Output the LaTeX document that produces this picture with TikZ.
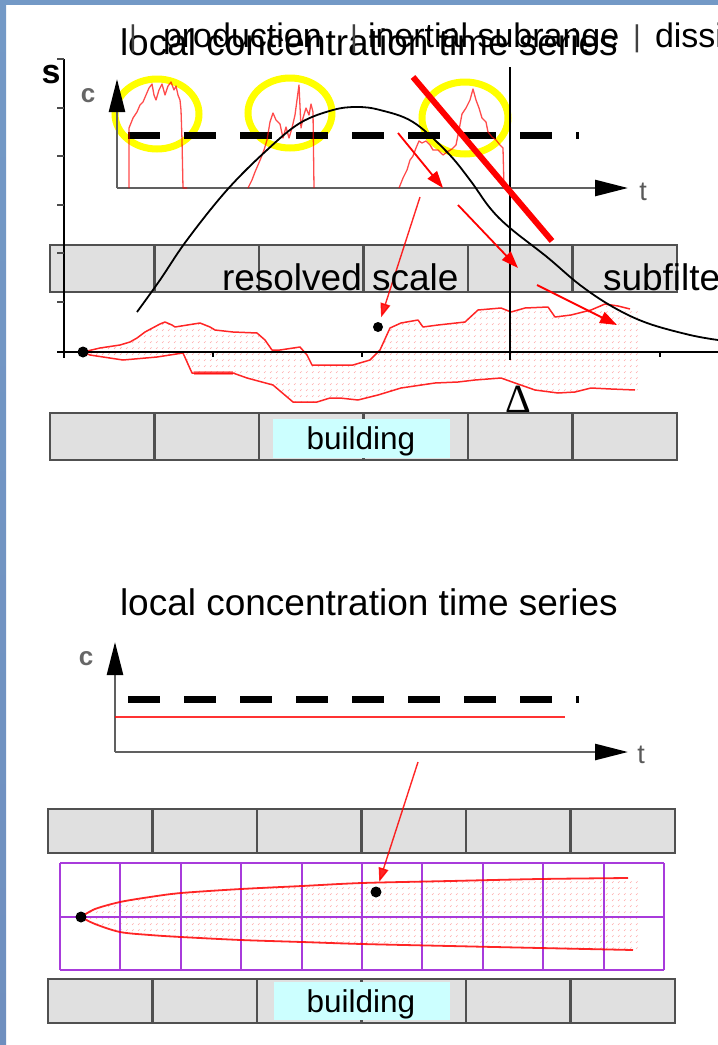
\documentclass[tikz,border=0pt]{standalone}
\usepackage{fontspec}
\setmainfont{Liberation Sans}
\newfontfamily\seriffont{Liberation Serif}
\usetikzlibrary{arrows.meta,patterns}
\definecolor{stripA}{HTML}{7399C6}
\definecolor{stripB}{HTML}{99CCFF}
\definecolor{stripC}{HTML}{6F8FBF}
\definecolor{boxgray}{HTML}{E0E0E0}
\definecolor{boxline}{HTML}{505050}
\definecolor{bldcyan}{HTML}{CCFFFF}
\definecolor{gridpurple}{HTML}{A83BDB}
\definecolor{yel}{HTML}{FFFF00}
\definecolor{axgray}{HTML}{606060}
\pgfdeclarepatternformonly{pinkdots}{\pgfqpoint{-1pt}{-1pt}}{\pgfqpoint{7pt}{7pt}}{\pgfqpoint{6pt}{6pt}}{%
  \pgfsetlinewidth{0.7pt}%
  \pgfpathmoveto{\pgfqpoint{0pt}{0pt}}\pgfpathlineto{\pgfqpoint{1.6pt}{1.6pt}}\pgfusepathqstroke}
\newcommand{\fs}[1]{\fontsize{#1pt}{#1pt}\selectfont}
\begin{document}
\begin{tikzpicture}[x=1pt,y=-1pt,
  txt/.style={inner sep=0pt, outer sep=0pt},
  blockbox/.style={fill=boxgray, draw=boxline, line width=2.5pt},
  axisline/.style={draw=axgray, line width=2.6pt, -{Triangle[length=33pt,width=16pt,color=black]}},
  dashthick/.style={line width=7pt, dash pattern=on 32pt off 24pt},
  tsred/.style={red, line width=1.3pt, opacity=0.7, line join=round},
  plumeline/.style={red, line width=1.5pt, opacity=0.85, line join=round},
  plumefill/.style={pattern=pinkdots, pattern color=red!35},
  redarrow/.style={red, line width=1.8pt, -{Triangle[length=17pt,width=12pt]}},
  thinarrow/.style={red, line width=1.4pt, opacity=0.85, -{Triangle[length=14pt,width=10pt]}},
  yring/.style={draw=yel, line width=7pt},
  dotnode/.style={circle, fill=black, inner sep=0pt, minimum size=11pt},
  clab/.style={txt, text=black!60, font=\bfseries\fs{26}},
  tlab/.style={txt, text=black!65, font=\fs{27}},
  bar/.style={txt, text=black!75, font=\fs{30}}
]
\useasboundingbox (0,0) rectangle (718,1045);
\fill[white] (0,0) rectangle (718,1045);
\fill[stripA] (0,0) rectangle (718,5);
\shade[top color=stripA, middle color=stripB, bottom color=stripC] (0,0) rectangle (6,1045);

% ---------------- upper section ----------------
\foreach \i in {0,...,5} {
  \draw[blockbox] ({50+104.5*\i},245) rectangle ({50+104.5*(\i+1)},292);
  \draw[blockbox] ({50+104.5*\i},413) rectangle ({50+104.5*(\i+1)},460);
}
\fill[bldcyan] (273,419) rectangle (450,458);
\node[txt, font=\fs{31.5}, anchor=base] (bld1) at (361,449) {building};

% yellow rings
\draw[yring] (157,114) ellipse (42 and 35);
\draw[yring] (290,113) ellipse (42 and 35);
\draw[yring] (465,118) ellipse (43 and 36);

% plume (upper)
\fill[plumefill] plot coordinates {(83,352) (100,348) (120,345) (130,342) (137,338) (145,332) (160,324) (165,322) (172,325) (175,327) (200,323) (210,327) (215,330) (233,332) (257,333) (265,340) (272,350) (280,350) (300,347) (307,355) (312,365) (330,365) (353,365) (370,360) (380,350) (390,328) (401,323) (418,320) (423,327) (438,325) (465,322) (478,310) (501,308) (511,312) (525,308) (548,307) (555,317) (571,315) (591,310) (605,304) (618,306) (630,309) (640,312)}
  -- plot coordinates {(640,390) (635,390) (611,389) (591,388) (575,392) (558,393) (535,390) (515,383) (501,378) (475,380) (458,382) (435,383) (401,388) (378,395) (358,400) (340,398) (330,398) (317,402) (293,402) (273,385) (247,378) (233,373) (192,373) (183,353) (157,357) (123,360) (90,355) (83,352)} -- cycle;
\draw[plumeline] (83,352) -- (100,348) -- (120,345) -- (130,342) -- (137,338) -- (145,332) -- (160,324) -- (165,322) -- (172,325) -- (175,327) -- (200,323) -- (210,327) -- (215,330) -- (233,332) -- (257,333) -- (265,340) -- (272,350) -- (280,350) -- (300,347) -- (307,355) -- (312,365) -- (330,365) -- (353,365) -- (370,360) -- (380,350) -- (390,328) -- (401,323) -- (418,320) -- (423,327) -- (438,325) -- (465,322) -- (478,310) -- (501,308) -- (511,312) -- (525,308) -- (548,307) -- (555,317) -- (571,315) -- (591,310) -- (605,304) -- (618,306) -- (630,309);
\draw[plumeline] (83,352) -- (90,355) -- (123,360) -- (157,357) -- (183,353) -- (192,373) -- (233,373) -- (247,378) -- (273,385) -- (293,402) -- (317,402) -- (330,398) -- (340,398) -- (358,400) -- (378,395) -- (401,388) -- (435,383) -- (458,382) -- (475,380) -- (501,378) -- (515,383) -- (535,390) -- (558,393) -- (575,392) -- (591,388) -- (611,389) -- (635,390);
\draw[red, line width=4pt, opacity=0.45] (194,373) -- (233,373);

% spectrum axes
\draw[black, line width=1.5pt] (64,59) -- (64,358);
\foreach \yy in {59,108,156,205,253,302} \draw[black!70, line width=1.5pt] (57,\yy) -- (64,\yy);
\draw[black, line width=1.5pt] (57,352) -- (718,352);
\foreach \xx in {213,362,660} \draw[black, line width=1.5pt] (\xx,352) -- (\xx,357);
\draw[black, line width=1.5pt] (510,67) -- (510,360);
\node[txt, font=\seriffont\fs{40}, anchor=base] (delta) at (518,412) {Δ};
\node[txt, font=\bfseries\fs{34}, anchor=base] (slab) at (51,83) {s};

% inset (upper) time series
\draw[axisline] (117,188) -- (117,79);
\draw[axisline] (117,188) -- (628,188);
\node[clab, anchor=base] (c1) at (88,102) {c};
\node[tlab, anchor=base] (t1) at (643,200) {t};
\draw[dashthick] (128,135) -- (579,135);
\draw[tsred] (129,188) -- (129,128) -- (133,118) -- (137,112) -- (140,105) -- (143,102) -- (146,95) -- (149,88) -- (152,84) -- (154,95) -- (156,100) -- (159,90) -- (162,84) -- (165,95) -- (168,86) -- (171,82) -- (174,90) -- (176,86) -- (178,95) -- (180,100) -- (181,110) -- (182,140) -- (183,188) -- (187,188);
\draw[tsred] (248,188) -- (252,180) -- (255,172) -- (258,165) -- (261,158) -- (264,150) -- (267,140) -- (270,122) -- (273,113) -- (276,120) -- (280,124) -- (283,138) -- (286,127) -- (289,138) -- (292,128) -- (295,115) -- (297,100) -- (299,85) -- (301,128) -- (303,118) -- (306,108) -- (309,115) -- (311,104) -- (313,112) -- (314,188);
\draw[tsred] (399,188) -- (403,178) -- (407,170) -- (410,160) -- (413,156) -- (416,148) -- (419,141) -- (422,143) -- (426,141) -- (430,145) -- (433,150) -- (438,150) -- (443,155) -- (447,152) -- (452,149) -- (456,145) -- (459,130) -- (462,114) -- (466,108) -- (470,100) -- (473,89) -- (476,100) -- (479,108) -- (482,118) -- (486,122) -- (488,132) -- (492,137) -- (496,140) -- (500,145) -- (503,148) -- (504,188);

% spectrum curve
\draw[black, line width=1.8pt] plot[smooth, tension=0.6] coordinates {(137,312) (160,280) (187,240) (227,190) (267,150) (300,123) (333,110) (357,107) (380,110) (413,122) (447,152) (470,180) (490,208) (510,228) (547,257) (580,285) (613,307) (647,323) (690,335) (718,340)};

% thick red cut line
\draw[red, line width=6pt] (413,77) -- (552,241);

% red cascade arrows
\coordinate (a1s) at (398,133); \coordinate (a1e) at (443,188);
\coordinate (a2s) at (458,205); \coordinate (a2e) at (518,268);
\coordinate (a3s) at (537,285); \coordinate (a3e) at (617,325);
\draw[redarrow] (a1s) -- (a1e);
\draw[redarrow] (a2s) -- (a2e);
\draw[redarrow] (a3s) -- (a3e);

% dots and sampling arrow
\node[dotnode] (src1) at (83,352) {};
\node[dotnode, minimum size=10pt] (rec1) at (378,327) {};
\coordinate (s1) at (420,197);
\draw[thinarrow, shorten >=5pt] (s1) -- (rec1);

% labels
\node[txt, font=\fs{37}, anchor=base west] (res) at (222,290) {resolved scale};
\node[txt, font=\fs{37}, anchor=base west] (sub) at (603,290) {subfilter scale};
\node[txt, font=\fs{37}, anchor=base west] (title1) at (120,55) {local concentration time series};
\node[bar, anchor=base] (b1) at (133,46) {|};
\node[txt, font=\fs{34}, anchor=base west] (prod) at (163,47) {production};
\node[bar, anchor=base] (b2) at (354,46) {|};
\node[txt, font=\fs{34}, anchor=base west] (iner) at (368,47) {inertial subrange};
\node[bar, anchor=base] (b3) at (637,46) {|};
\node[txt, font=\fs{34}, anchor=base west] (diss) at (655,47) {dissipation};

% ---------------- lower section ----------------
\node[txt, font=\fs{37}, anchor=base west] (title2) at (120,615) {local concentration time series};
\draw[axisline] (115,752) -- (115,642);
\draw[axisline] (115,752) -- (628,752);
\node[clab, anchor=base] (c2) at (86,665) {c};
\node[tlab, anchor=base] (t2) at (641,763) {t};
\draw[dashthick] (128,699) -- (579,699);
\draw[red, line width=1.4pt, opacity=0.8] (115,717) -- (565,717);

\foreach \i in {0,...,5} {
  \draw[blockbox] ({48+104.5*\i},809) rectangle ({48+104.5*(\i+1)},853);
  \draw[blockbox] ({48+104.5*\i},979) rectangle ({48+104.5*(\i+1)},1023);
}
\fill[bldcyan] (274,982) rectangle (450,1020);
\node[txt, font=\fs{31.5}, anchor=base] (bld2) at (361,1012) {building};

% plume (lower)
\fill[white] (60,863) rectangle (664,970);
\fill[plumefill] plot[smooth] coordinates {(81,917) (95,909) (120,902) (150,897) (181,893) (241,889) (302,886) (362,883) (450,881) (540,879) (628,878)}
  -- (640,878) -- (640,950)
  -- plot[smooth] coordinates {(633,950) (540,948) (450,946) (362,944) (302,942) (241,940) (181,937) (150,935) (120,932) (95,924) (81,917)} -- cycle;
\foreach \i in {0,...,10} \draw[gridpurple, line width=2pt] ({60+60.4*\i},863) -- ({60+60.4*\i},970);
\draw[gridpurple, line width=2pt] (60,863) -- (664,863);
\draw[gridpurple, line width=2pt] (60,917) -- (664,917);
\draw[gridpurple, line width=2pt] (60,970) -- (664,970);
\draw[plumeline, line width=1.8pt] plot[smooth] coordinates {(81,917) (95,909) (120,902) (150,897) (181,893) (241,889) (302,886) (362,883) (450,881) (540,879) (628,878)};
\draw[plumeline, line width=1.8pt] plot[smooth] coordinates {(81,917) (95,924) (120,932) (150,935) (181,937) (241,940) (302,942) (362,944) (450,946) (540,948) (633,950)};
\node[dotnode] (src2) at (81,917) {};
\node[dotnode] (rec2) at (376,892) {};
\coordinate (s2) at (418,762);
\draw[thinarrow, shorten >=5pt] (s2) -- (rec2);
\end{tikzpicture}
\end{document}
